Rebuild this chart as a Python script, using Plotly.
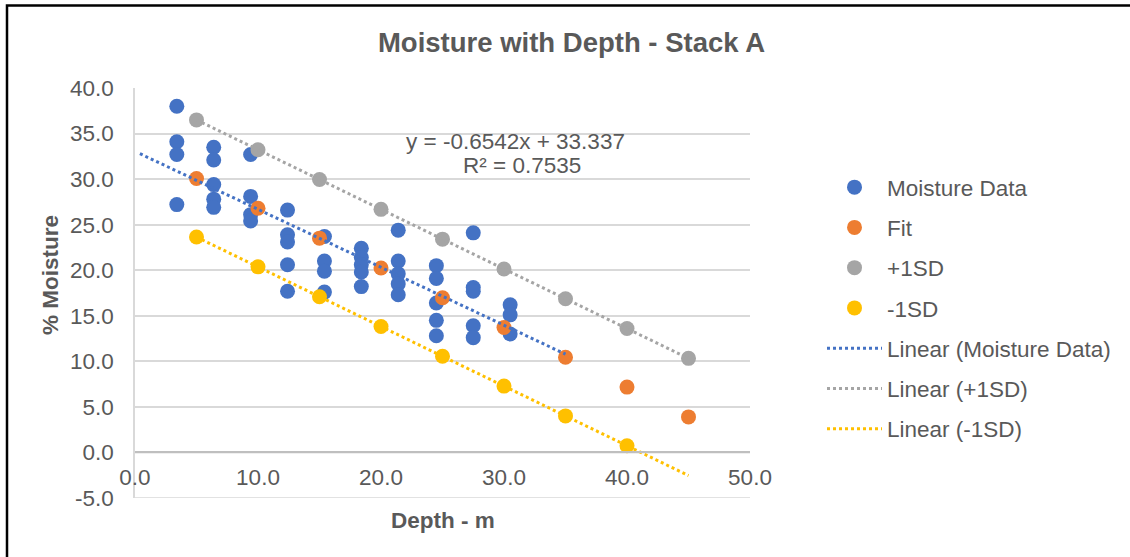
import numpy as np
import plotly.graph_objects as go

# ---------------- data ----------------
depth_cols = [3.4, 6.4, 9.4, 12.4, 15.4, 18.4, 21.4, 24.5, 27.5, 30.5]
moisture_by_col = [
    [38.0, 34.1, 32.7, 27.2],
    [33.5, 32.1, 29.4, 27.8, 26.9],
    [32.7, 28.1, 26.1, 25.4],
    [26.6, 23.9, 23.1, 20.6, 17.7],
    [23.7, 21.0, 19.9, 17.6],
    [22.4, 21.4, 20.6, 19.8, 18.2],
    [24.4, 21.0, 19.6, 18.5, 17.3],
    [20.5, 19.1, 16.4, 14.5, 12.8],
    [24.1, 18.1, 17.7, 13.9, 12.6],
    [16.2, 15.1, 13.0],
]
fit_depth = [5, 10, 15, 20, 25, 30, 35, 40, 45]
fit_vals = [30.07, 26.80, 23.52, 20.25, 16.98, 13.71, 10.44, 7.17, 3.90]
plus_depth = [5, 10, 15, 20, 25, 30, 35, 40, 45]
plus_vals = [36.5, 33.23, 29.95, 26.68, 23.41, 20.14, 16.87, 13.6, 10.33]
minus_depth = [5, 10, 15, 20, 25, 30, 35, 40]
minus_vals = [23.64, 20.37, 17.09, 13.82, 10.55, 7.28, 4.01, 0.74]

eq_text = "y = -0.6542x + 33.337"
r2_text = "R² = 0.7535"

x_ticks = [0, 10, 20, 30, 40, 50]
y_ticks = [-5, 0, 5, 10, 15, 20, 25, 30, 35, 40]

# trendline forecast extents (backward, forward)
trend_ext_data = (3.0, 4.5)
trend_ext_plus = (0.0, 0.0)
trend_ext_minus = (0.0, 5.0)

# ---------------- derived ----------------
md_x = [d for d, col in zip(depth_cols, moisture_by_col) for _ in col]
md_y = [v for col in moisture_by_col for v in col]

def trend(xs, ys, ext):
    m, b = np.polyfit(xs, ys, 1)
    x0, x1 = min(xs) - ext[0], max(xs) + ext[1]
    xx = np.array([x0, x1])
    return xx, m * xx + b

def fmt(v):
    return f"{v:.1f}"

BLUE, ORANGE, GRAY, YELLOW = "#4472C4", "#ED7D31", "#A5A5A5", "#FFC000"
TXT = "#595959"
FONT = "Liberation Sans, Arial, sans-serif"
FS = 22.5

W, H = 1130, 557
L, R, T, B = 135, 380, 88, 59
PW, PH = W - L - R, H - T - B

def px(X):
    return (X - L) / PW

def py(Y):
    return 1 - (Y - T) / PH

fig = go.Figure()
msize = 15
fig.add_trace(go.Scatter(x=md_x, y=md_y, mode="markers", name="Moisture Data",
                         marker=dict(color=BLUE, size=msize), legendgroup="a"))
fig.add_trace(go.Scatter(x=fit_depth, y=fit_vals, mode="markers", name="Fit",
                         marker=dict(color=ORANGE, size=msize), legendgroup="b"))
fig.add_trace(go.Scatter(x=plus_depth, y=plus_vals, mode="markers", name="+1SD",
                         marker=dict(color=GRAY, size=msize), legendgroup="c"))
fig.add_trace(go.Scatter(x=minus_depth, y=minus_vals, mode="markers", name="-1SD",
                         marker=dict(color=YELLOW, size=msize), legendgroup="d"))

for xs, ys, ext, col, nm, g in [
    (md_x, md_y, trend_ext_data, BLUE, "Linear (Moisture Data)", "e"),
    (plus_depth, plus_vals, trend_ext_plus, GRAY, "Linear (+1SD)", "f"),
    (minus_depth, minus_vals, trend_ext_minus, YELLOW, "Linear (-1SD)", "g"),
]:
    tx, ty = trend(xs, ys, ext)
    fig.add_trace(go.Scatter(x=tx, y=ty, mode="lines", name=nm, legendgroup=g,
                             line=dict(color=col, width=3, dash="dot")))

fig.update_layout(
    width=W, height=H,
    margin=dict(l=L, r=R, t=T, b=B),
    paper_bgcolor="white", plot_bgcolor="white",
    font=dict(family=FONT, color=TXT, size=FS),
    title=dict(text="<b>Moisture with Depth - Stack A</b>", x=571.5 / W, xanchor="center",
               y=1 - 42 / H, yanchor="middle", font=dict(size=27.5, color=TXT)),
    showlegend=True,
    legend=dict(x=px(822), y=py(166), xanchor="left", yanchor="top",
                font=dict(size=FS, color=TXT), tracegroupgap=8, itemwidth=55,
                bgcolor="rgba(0,0,0,0)"),
    xaxis=dict(range=[0, 50], tickvals=x_ticks, ticktext=[fmt(v) for v in x_ticks],
               showgrid=False, zeroline=False, showline=True, linecolor="#BFBFBF",
               linewidth=1.5, anchor="free", position=5 / 45, ticks="",
               ticklabelstandoff=5, tickfont=dict(size=FS, color=TXT)),
    yaxis=dict(range=[-5, 40], tickvals=y_ticks, ticktext=[fmt(v) for v in y_ticks],
               showgrid=True, gridcolor="#D9D9D9", gridwidth=1.5, zeroline=False,
               showline=True, linecolor="#D9D9D9", linewidth=1.5, ticks="",
               ticklabelstandoff=15, tickfont=dict(size=FS, color=TXT)),
    annotations=[
        dict(text="<b>% Moisture</b>", textangle=-90, x=px(50), y=py(275),
             xref="paper", yref="paper", xanchor="center", yanchor="middle",
             showarrow=False, font=dict(size=FS, color=TXT)),
        dict(text="<b>Depth - m</b>", x=px(443), y=py(520), xref="paper", yref="paper",
             xanchor="center", yanchor="middle", showarrow=False, font=dict(size=FS, color=TXT)),
        dict(text=eq_text, x=px(515), y=py(141), xref="paper", yref="paper",
             xanchor="center", yanchor="middle", showarrow=False, font=dict(size=FS, color=TXT)),
        dict(text=r2_text, x=px(522), y=py(166), xref="paper", yref="paper",
             xanchor="center", yanchor="middle", showarrow=False, font=dict(size=FS, color=TXT)),
    ],
    shapes=[
        dict(type="rect", xref="paper", yref="paper", x0=px(7), x1=px(1140),
             y0=py(570), y1=py(5.5), line=dict(color="black", width=2.5), layer="above"),
        dict(type="line", xref="paper", yref="y", x0=0, x1=1, y0=0, y1=0,
             line=dict(color="#BFBFBF", width=1.5), layer="below"),
        dict(type="line", xref="paper", yref="y", x0=0, x1=1, y0=-5, y1=-5,
             line=dict(color="#D9D9D9", width=1.5), layer="below"),
    ],
)

fig.write_html("out.html", config={"displayModeBar": False},
               post_script="document.body.style.margin='0';document.body.style.overflow='hidden';")
